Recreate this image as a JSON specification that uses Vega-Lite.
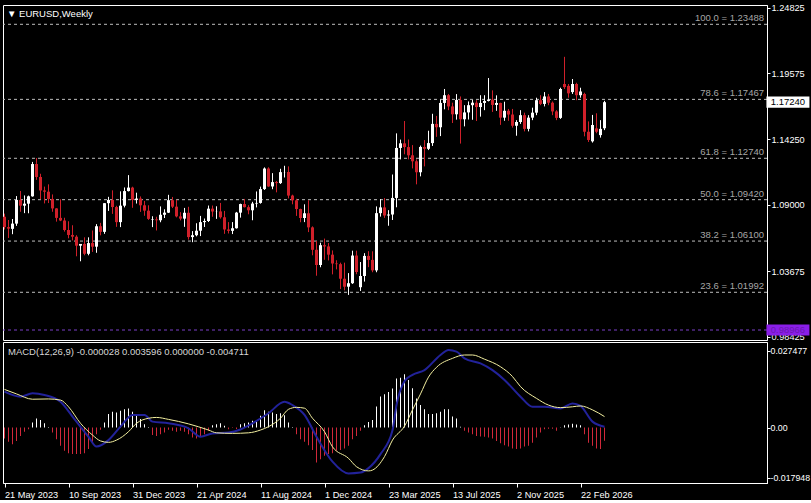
{
  "$schema": "https://vega.github.io/schema/vega-lite/v6.json",
  "background": "#000000",
  "padding": {"left": 0, "top": 3, "right": 0, "bottom": 0},
  "bounds": "flush",
  "spacing": 2,
  "config": {
    "view": {"stroke": "#ffffff", "strokeWidth": 1},
    "axis": {"labelFont": "Liberation Sans", "labelFontSize": 9.2, "labelColor": "#ffffff", "domainColor": "#ffffff", "tickColor": "#ffffff", "grid": false, "labelOverlap": false, "labelFlush": false},
    "text": {"font": "Liberation Sans", "fontSize": 9.5}
  },
  "datasets": {
    "weeks": [
      {"d":"2023-05-21","o":1.0805,"h":1.0830,"l":1.0703,"c":1.0722,"m":-0.0039},
      {"d":"2023-05-28","o":1.0722,"h":1.0779,"l":1.0635,"c":1.0710,"m":-0.0051},
      {"d":"2023-06-04","o":1.0708,"h":1.0787,"l":1.0665,"c":1.0750,"m":-0.0060},
      {"d":"2023-06-11","o":1.0750,"h":1.0971,"l":1.0732,"c":1.0940,"m":-0.0048},
      {"d":"2023-06-18","o":1.0940,"h":1.1012,"l":1.0845,"c":1.0894,"m":-0.0030},
      {"d":"2023-06-25","o":1.0894,"h":1.0976,"l":1.0834,"c":1.0910,"m":-0.0015},
      {"d":"2023-07-02","o":1.0910,"h":1.0975,"l":1.0833,"c":1.0969,"m":-0.0006},
      {"d":"2023-07-09","o":1.0969,"h":1.1245,"l":1.0966,"c":1.1228,"m":0.0018},
      {"d":"2023-07-16","o":1.1228,"h":1.1276,"l":1.1101,"c":1.1124,"m":0.0032},
      {"d":"2023-07-23","o":1.1124,"h":1.1150,"l":1.0946,"c":1.1016,"m":0.0027},
      {"d":"2023-07-30","o":1.1016,"h":1.1047,"l":1.0912,"c":1.1006,"m":0.0015},
      {"d":"2023-08-06","o":1.1006,"h":1.1065,"l":1.0915,"c":1.0948,"m":0.0002},
      {"d":"2023-08-13","o":1.0948,"h":1.0984,"l":1.0845,"c":1.0872,"m":-0.0018},
      {"d":"2023-08-20","o":1.0872,"h":1.0874,"l":1.0766,"c":1.0796,"m":-0.0042},
      {"d":"2023-08-27","o":1.0796,"h":1.0945,"l":1.0770,"c":1.0775,"m":-0.0065},
      {"d":"2023-09-03","o":1.0775,"h":1.0797,"l":1.0686,"c":1.0699,"m":-0.0083},
      {"d":"2023-09-10","o":1.0699,"h":1.0769,"l":1.0632,"c":1.0659,"m":-0.0092},
      {"d":"2023-09-17","o":1.0659,"h":1.0737,"l":1.0615,"c":1.0645,"m":-0.0095},
      {"d":"2023-09-24","o":1.0645,"h":1.0657,"l":1.0488,"c":1.0573,"m":-0.0095},
      {"d":"2023-10-01","o":1.0573,"h":1.0586,"l":1.0448,"c":1.0587,"m":-0.0095},
      {"d":"2023-10-08","o":1.0587,"h":1.0640,"l":1.0496,"c":1.0508,"m":-0.0092},
      {"d":"2023-10-15","o":1.0508,"h":1.0640,"l":1.0496,"c":1.0594,"m":-0.0077},
      {"d":"2023-10-22","o":1.0594,"h":1.0695,"l":1.0523,"c":1.0565,"m":-0.0054},
      {"d":"2023-10-29","o":1.0565,"h":1.0746,"l":1.0516,"c":1.0729,"m":-0.0024},
      {"d":"2023-11-05","o":1.0729,"h":1.0756,"l":1.0656,"c":1.0684,"m":-0.0008},
      {"d":"2023-11-12","o":1.0684,"h":1.0914,"l":1.0668,"c":1.0914,"m":0.0018},
      {"d":"2023-11-19","o":1.0914,"h":1.0965,"l":1.0852,"c":1.0940,"m":0.0048},
      {"d":"2023-11-26","o":1.0940,"h":1.1017,"l":1.0828,"c":1.0883,"m":0.0056},
      {"d":"2023-12-03","o":1.0883,"h":1.0893,"l":1.0724,"c":1.0762,"m":0.0054},
      {"d":"2023-12-10","o":1.0762,"h":1.1009,"l":1.0722,"c":1.0894,"m":0.0060},
      {"d":"2023-12-17","o":1.0894,"h":1.1040,"l":1.0880,"c":1.1011,"m":0.0065},
      {"d":"2023-12-24","o":1.1011,"h":1.1139,"l":1.1008,"c":1.1039,"m":0.0068},
      {"d":"2023-12-31","o":1.1039,"h":1.1046,"l":1.0877,"c":1.0940,"m":0.0056},
      {"d":"2024-01-07","o":1.0940,"h":1.0998,"l":1.0911,"c":1.0951,"m":0.0042},
      {"d":"2024-01-14","o":1.0951,"h":1.0968,"l":1.0844,"c":1.0897,"m":0.0030},
      {"d":"2024-01-21","o":1.0897,"h":1.0932,"l":1.0813,"c":1.0854,"m":0.0012},
      {"d":"2024-01-28","o":1.0854,"h":1.0897,"l":1.0780,"c":1.0788,"m":0.0002},
      {"d":"2024-02-04","o":1.0780,"h":1.0809,"l":1.0722,"c":1.0784,"m":-0.0027},
      {"d":"2024-02-11","o":1.0784,"h":1.0805,"l":1.0695,"c":1.0777,"m":-0.0030},
      {"d":"2024-02-18","o":1.0777,"h":1.0888,"l":1.0761,"c":1.0821,"m":-0.0024},
      {"d":"2024-02-25","o":1.0821,"h":1.0865,"l":1.0795,"c":1.0838,"m":-0.0018},
      {"d":"2024-03-03","o":1.0838,"h":1.0981,"l":1.0835,"c":1.0938,"m":-0.0008},
      {"d":"2024-03-10","o":1.0938,"h":1.0964,"l":1.0875,"c":1.0886,"m":-0.0012},
      {"d":"2024-03-17","o":1.0886,"h":1.0942,"l":1.0800,"c":1.0808,"m":-0.0015},
      {"d":"2024-03-24","o":1.0808,"h":1.0842,"l":1.0776,"c":1.0790,"m":-0.0012},
      {"d":"2024-03-31","o":1.0790,"h":1.0876,"l":1.0724,"c":1.0837,"m":-0.0015},
      {"d":"2024-04-07","o":1.0837,"h":1.0885,"l":1.0622,"c":1.0642,"m":-0.0024},
      {"d":"2024-04-14","o":1.0642,"h":1.0690,"l":1.0601,"c":1.0657,"m":-0.0036},
      {"d":"2024-04-21","o":1.0657,"h":1.0753,"l":1.0648,"c":1.0693,"m":-0.0039},
      {"d":"2024-04-28","o":1.0693,"h":1.0812,"l":1.0650,"c":1.0762,"m":-0.0030},
      {"d":"2024-05-05","o":1.0762,"h":1.0791,"l":1.0723,"c":1.0771,"m":-0.0024},
      {"d":"2024-05-12","o":1.0771,"h":1.0895,"l":1.0763,"c":1.0870,"m":-0.0012},
      {"d":"2024-05-19","o":1.0870,"h":1.0895,"l":1.0805,"c":1.0847,"m":0.0008},
      {"d":"2024-05-26","o":1.0847,"h":1.0889,"l":1.0788,"c":1.0848,"m":0.0012},
      {"d":"2024-06-02","o":1.0848,"h":1.0916,"l":1.0790,"c":1.0801,"m":0.0015},
      {"d":"2024-06-09","o":1.0801,"h":1.0852,"l":1.0668,"c":1.0703,"m":0.0006},
      {"d":"2024-06-16","o":1.0703,"h":1.0762,"l":1.0671,"c":1.0692,"m":-0.0006},
      {"d":"2024-06-23","o":1.0692,"h":1.0762,"l":1.0666,"c":1.0713,"m":-0.0002},
      {"d":"2024-06-30","o":1.0713,"h":1.0844,"l":1.0710,"c":1.0838,"m":-0.0005},
      {"d":"2024-07-07","o":1.0838,"h":1.0910,"l":1.0798,"c":1.0907,"m":0.0012},
      {"d":"2024-07-14","o":1.0907,"h":1.0948,"l":1.0880,"c":1.0882,"m":0.0015},
      {"d":"2024-07-21","o":1.0882,"h":1.0898,"l":1.0825,"c":1.0857,"m":0.0018},
      {"d":"2024-07-28","o":1.0857,"h":1.0925,"l":1.0777,"c":1.0911,"m":0.0024},
      {"d":"2024-08-04","o":1.0911,"h":1.1008,"l":1.0880,"c":1.0916,"m":0.0027},
      {"d":"2024-08-11","o":1.0916,"h":1.1047,"l":1.0910,"c":1.1027,"m":0.0042},
      {"d":"2024-08-18","o":1.1027,"h":1.1201,"l":1.1020,"c":1.1192,"m":0.0062},
      {"d":"2024-08-25","o":1.1192,"h":1.1202,"l":1.1045,"c":1.1048,"m":0.0056},
      {"d":"2024-09-01","o":1.1048,"h":1.1155,"l":1.1026,"c":1.1083,"m":0.0054},
      {"d":"2024-09-08","o":1.1083,"h":1.1092,"l":1.1001,"c":1.1075,"m":0.0048},
      {"d":"2024-09-15","o":1.1075,"h":1.1190,"l":1.1068,"c":1.1163,"m":0.0051},
      {"d":"2024-09-22","o":1.1163,"h":1.1214,"l":1.1120,"c":1.1164,"m":0.0044},
      {"d":"2024-09-29","o":1.1164,"h":1.1209,"l":1.0952,"c":1.0975,"m":0.0018},
      {"d":"2024-10-06","o":1.0975,"h":1.0982,"l":1.0905,"c":1.0937,"m":0.0002},
      {"d":"2024-10-13","o":1.0937,"h":1.0949,"l":1.0812,"c":1.0867,"m":-0.0024},
      {"d":"2024-10-20","o":1.0867,"h":1.0870,"l":1.0761,"c":1.0795,"m":-0.0042},
      {"d":"2024-10-27","o":1.0795,"h":1.0905,"l":1.0762,"c":1.0833,"m":-0.0051},
      {"d":"2024-11-03","o":1.0833,"h":1.0937,"l":1.0682,"c":1.0720,"m":-0.0063},
      {"d":"2024-11-10","o":1.0720,"h":1.0728,"l":1.0496,"c":1.0540,"m":-0.0080},
      {"d":"2024-11-17","o":1.0540,"h":1.0610,"l":1.0332,"c":1.0418,"m":-0.0125},
      {"d":"2024-11-24","o":1.0418,"h":1.0597,"l":1.0400,"c":1.0577,"m":-0.0113},
      {"d":"2024-12-01","o":1.0577,"h":1.0630,"l":1.0460,"c":1.0567,"m":-0.0101},
      {"d":"2024-12-08","o":1.0567,"h":1.0594,"l":1.0455,"c":1.0501,"m":-0.0095},
      {"d":"2024-12-15","o":1.0501,"h":1.0535,"l":1.0343,"c":1.0430,"m":-0.0092},
      {"d":"2024-12-22","o":1.0430,"h":1.0456,"l":1.0383,"c":1.0425,"m":-0.0083},
      {"d":"2024-12-29","o":1.0425,"h":1.0437,"l":1.0225,"c":1.0308,"m":-0.0080},
      {"d":"2025-01-05","o":1.0308,"h":1.0437,"l":1.0215,"c":1.0244,"m":-0.0075},
      {"d":"2025-01-12","o":1.0244,"h":1.0353,"l":1.0178,"c":1.0272,"m":-0.0065},
      {"d":"2025-01-19","o":1.0272,"h":1.0533,"l":1.0266,"c":1.0494,"m":-0.0042},
      {"d":"2025-01-26","o":1.0494,"h":1.0533,"l":1.0344,"c":1.0362,"m":-0.0030},
      {"d":"2025-02-02","o":1.0240,"h":1.0442,"l":1.0210,"c":1.0330,"m":-0.0012},
      {"d":"2025-02-09","o":1.0330,"h":1.0513,"l":1.0285,"c":1.0491,"m":0.0008},
      {"d":"2025-02-16","o":1.0491,"h":1.0529,"l":1.0401,"c":1.0459,"m":0.0020},
      {"d":"2025-02-23","o":1.0459,"h":1.0528,"l":1.0360,"c":1.0375,"m":0.0027},
      {"d":"2025-03-02","o":1.0375,"h":1.0888,"l":1.0360,"c":1.0834,"m":0.0075},
      {"d":"2025-03-09","o":1.0834,"h":1.0947,"l":1.0806,"c":1.0880,"m":0.0111},
      {"d":"2025-03-16","o":1.0880,"h":1.0955,"l":1.0796,"c":1.0815,"m":0.0119},
      {"d":"2025-03-23","o":1.0815,"h":1.0858,"l":1.0733,"c":1.0823,"m":0.0127},
      {"d":"2025-03-30","o":1.0823,"h":1.1144,"l":1.0779,"c":1.0956,"m":0.0139},
      {"d":"2025-04-06","o":1.0956,"h":1.1474,"l":1.0881,"c":1.1357,"m":0.0175},
      {"d":"2025-04-13","o":1.1357,"h":1.1424,"l":1.1265,"c":1.1394,"m":0.0178},
      {"d":"2025-04-20","o":1.1394,"h":1.1573,"l":1.1306,"c":1.1364,"m":0.0190},
      {"d":"2025-04-27","o":1.1364,"h":1.1425,"l":1.1265,"c":1.1298,"m":0.0170},
      {"d":"2025-05-04","o":1.1298,"h":1.1380,"l":1.1193,"c":1.1250,"m":0.0140},
      {"d":"2025-05-11","o":1.1250,"h":1.1266,"l":1.1065,"c":1.1162,"m":0.0104},
      {"d":"2025-05-18","o":1.1162,"h":1.1376,"l":1.1129,"c":1.1365,"m":0.0080},
      {"d":"2025-05-25","o":1.1365,"h":1.1420,"l":1.1209,"c":1.1350,"m":0.0065},
      {"d":"2025-06-01","o":1.1350,"h":1.1495,"l":1.1340,"c":1.1396,"m":0.0048},
      {"d":"2025-06-08","o":1.1396,"h":1.1631,"l":1.1373,"c":1.1550,"m":0.0048},
      {"d":"2025-06-15","o":1.1550,"h":1.1614,"l":1.1446,"c":1.1523,"m":0.0051},
      {"d":"2025-06-22","o":1.1523,"h":1.1745,"l":1.1452,"c":1.1718,"m":0.0056},
      {"d":"2025-06-29","o":1.1718,"h":1.1830,"l":1.1667,"c":1.1780,"m":0.0065},
      {"d":"2025-07-06","o":1.1780,"h":1.1790,"l":1.1660,"c":1.1690,"m":0.0065},
      {"d":"2025-07-13","o":1.1690,"h":1.1720,"l":1.1557,"c":1.1627,"m":0.0039},
      {"d":"2025-07-20","o":1.1627,"h":1.1789,"l":1.1584,"c":1.1742,"m":0.0032},
      {"d":"2025-07-27","o":1.1742,"h":1.1770,"l":1.1392,"c":1.1587,"m":0.0003},
      {"d":"2025-08-03","o":1.1587,"h":1.1700,"l":1.1530,"c":1.1642,"m":-0.0012},
      {"d":"2025-08-10","o":1.1642,"h":1.1730,"l":1.1585,"c":1.1700,"m":-0.0018},
      {"d":"2025-08-17","o":1.1700,"h":1.1742,"l":1.1583,"c":1.1720,"m":-0.0024},
      {"d":"2025-08-24","o":1.1720,"h":1.1740,"l":1.1573,"c":1.1685,"m":-0.0030},
      {"d":"2025-08-31","o":1.1685,"h":1.1780,"l":1.1608,"c":1.1718,"m":-0.0032},
      {"d":"2025-09-07","o":1.1718,"h":1.1780,"l":1.1660,"c":1.1734,"m":-0.0033},
      {"d":"2025-09-14","o":1.1734,"h":1.1918,"l":1.1730,"c":1.1745,"m":-0.0036},
      {"d":"2025-09-21","o":1.1745,"h":1.1819,"l":1.1646,"c":1.1702,"m":-0.0039},
      {"d":"2025-09-28","o":1.1702,"h":1.1779,"l":1.1655,"c":1.1718,"m":-0.0048},
      {"d":"2025-10-05","o":1.1718,"h":1.1720,"l":1.1542,"c":1.1600,"m":-0.0056},
      {"d":"2025-10-12","o":1.1600,"h":1.1728,"l":1.1575,"c":1.1655,"m":-0.0063},
      {"d":"2025-10-19","o":1.1655,"h":1.1670,"l":1.1575,"c":1.1625,"m":-0.0068},
      {"d":"2025-10-26","o":1.1625,"h":1.1670,"l":1.1520,"c":1.1535,"m":-0.0075},
      {"d":"2025-11-02","o":1.1535,"h":1.1580,"l":1.1455,"c":1.1565,"m":-0.0077},
      {"d":"2025-11-09","o":1.1565,"h":1.1660,"l":1.1550,"c":1.1620,"m":-0.0075},
      {"d":"2025-11-16","o":1.1620,"h":1.1640,"l":1.1490,"c":1.1510,"m":-0.0068},
      {"d":"2025-11-23","o":1.1510,"h":1.1620,"l":1.1490,"c":1.1600,"m":-0.0065},
      {"d":"2025-11-30","o":1.1600,"h":1.1680,"l":1.1580,"c":1.1640,"m":-0.0054},
      {"d":"2025-12-07","o":1.1640,"h":1.1760,"l":1.1620,"c":1.1740,"m":-0.0036},
      {"d":"2025-12-14","o":1.1740,"h":1.1780,"l":1.1700,"c":1.1710,"m":-0.0018},
      {"d":"2025-12-21","o":1.1710,"h":1.1805,"l":1.1690,"c":1.1770,"m":-0.0006},
      {"d":"2025-12-28","o":1.1770,"h":1.1790,"l":1.1700,"c":1.1720,"m":-0.0004},
      {"d":"2026-01-04","o":1.1720,"h":1.1730,"l":1.1620,"c":1.1650,"m":-0.0004},
      {"d":"2026-01-11","o":1.1650,"h":1.1660,"l":1.1580,"c":1.1598,"m":-0.0012},
      {"d":"2026-01-18","o":1.1598,"h":1.1840,"l":1.1590,"c":1.1830,"m":0.0001},
      {"d":"2026-01-25","o":1.1870,"h":1.2088,"l":1.1830,"c":1.1845,"m":0.0008},
      {"d":"2026-02-01","o":1.1855,"h":1.1870,"l":1.1760,"c":1.1795,"m":0.0011},
      {"d":"2026-02-08","o":1.1805,"h":1.1910,"l":1.1790,"c":1.1870,"m":0.0013},
      {"d":"2026-02-15","o":1.1870,"h":1.1880,"l":1.1740,"c":1.1780,"m":0.0011},
      {"d":"2026-02-22","o":1.1780,"h":1.1840,"l":1.1760,"c":1.1810,"m":0.0008},
      {"d":"2026-03-01","o":1.1790,"h":1.1800,"l":1.1450,"c":1.1487,"m":-0.0024},
      {"d":"2026-03-08","o":1.1487,"h":1.1570,"l":1.1405,"c":1.1421,"m":-0.0054},
      {"d":"2026-03-15","o":1.1410,"h":1.1622,"l":1.1400,"c":1.1541,"m":-0.0065},
      {"d":"2026-03-22","o":1.1514,"h":1.1635,"l":1.1475,"c":1.1487,"m":-0.0075},
      {"d":"2026-03-29","o":1.1460,"h":1.1580,"l":1.1440,"c":1.1510,"m":-0.0077},
      {"d":"2026-04-05","o":1.1515,"h":1.1735,"l":1.1500,"c":1.1724,"m":-0.0047}
    ],
    "fib": [
      {"v":1.23488,"t":"100.0 = 1.23488"},
      {"v":1.17467,"t":"78.6 = 1.17467"},
      {"v":1.12740,"t":"61.8 = 1.12740"},
      {"v":1.09420,"t":"50.0 = 1.09420"},
      {"v":1.06100,"t":"38.2 = 1.06100"},
      {"v":1.01992,"t":"23.6 = 1.01992"}
    ],
    "macdline": [
      {"d":"2023-05-21","v":0.0128},{"d":"2023-06-18","v":0.0110},{"d":"2023-07-09","v":0.0122},{"d":"2023-07-30","v":0.0116},
      {"d":"2023-08-27","v":0.0092},{"d":"2023-09-17","v":0.0039},{"d":"2023-10-15","v":-0.0033},{"d":"2023-10-29","v":-0.0068},
      {"d":"2023-11-19","v":-0.0045},{"d":"2023-12-10","v":0.0003},{"d":"2023-12-31","v":0.0045},{"d":"2024-01-21","v":0.0045},
      {"d":"2024-02-04","v":0.0021},{"d":"2024-03-03","v":0.0015},{"d":"2024-04-07","v":-0.0003},{"d":"2024-04-28","v":-0.0033},
      {"d":"2024-05-19","v":-0.0021},{"d":"2024-06-16","v":-0.0018},{"d":"2024-07-07","v":-0.0007},{"d":"2024-07-28","v":0.0015},
      {"d":"2024-08-25","v":0.0051},{"d":"2024-09-22","v":0.0092},{"d":"2024-10-06","v":0.0080},{"d":"2024-10-27","v":0.0045},
      {"d":"2024-11-17","v":-0.0033},{"d":"2024-12-15","v":-0.0122},{"d":"2025-01-12","v":-0.0164},{"d":"2025-02-02","v":-0.0161},
      {"d":"2025-02-16","v":-0.0145},{"d":"2025-03-09","v":-0.0095},{"d":"2025-03-30","v":-0.0010},{"d":"2025-04-06","v":0.0080},
      {"d":"2025-04-20","v":0.0165},{"d":"2025-05-04","v":0.0188},{"d":"2025-05-25","v":0.0205},{"d":"2025-06-22","v":0.0259},
      {"d":"2025-07-06","v":0.0277},{"d":"2025-07-20","v":0.0271},{"d":"2025-08-03","v":0.0247},{"d":"2025-08-31","v":0.0229},
      {"d":"2025-09-21","v":0.0205},{"d":"2025-10-12","v":0.0170},{"d":"2025-11-09","v":0.0110},{"d":"2025-11-30","v":0.0074},
      {"d":"2025-12-21","v":0.0074},{"d":"2026-01-18","v":0.0068},{"d":"2026-02-08","v":0.0086},{"d":"2026-02-22","v":0.0077},
      {"d":"2026-03-15","v":0.0021},{"d":"2026-04-05","v":0.0003}
    ],
    "signal": [
      {"d":"2023-05-21","v":0.0136},{"d":"2023-06-11","v":0.0120},{"d":"2023-07-09","v":0.0101},{"d":"2023-08-06","v":0.0102},
      {"d":"2023-08-27","v":0.0098},{"d":"2023-09-10","v":0.0074},{"d":"2023-10-01","v":0.0015},{"d":"2023-10-22","v":-0.0027},
      {"d":"2023-11-05","v":-0.0048},{"d":"2023-11-19","v":-0.0053},{"d":"2023-12-03","v":-0.0045},{"d":"2023-12-24","v":-0.0015},
      {"d":"2024-01-07","v":0.0015},{"d":"2024-01-28","v":0.0033},{"d":"2024-02-11","v":0.0036},{"d":"2024-03-03","v":0.0029},
      {"d":"2024-04-07","v":0.0013},{"d":"2024-05-12","v":-0.0009},{"d":"2024-05-26","v":-0.0019},{"d":"2024-06-23","v":-0.0021},
      {"d":"2024-07-21","v":-0.0019},{"d":"2024-08-11","v":-0.0009},{"d":"2024-08-25","v":0.0003},{"d":"2024-09-15","v":0.0033},
      {"d":"2024-09-29","v":0.0065},{"d":"2024-10-13","v":0.0072},{"d":"2024-10-27","v":0.0069},{"d":"2024-11-10","v":0.0033},
      {"d":"2024-12-01","v":-0.0015},{"d":"2024-12-15","v":-0.0069},{"d":"2025-01-12","v":-0.0110},{"d":"2025-01-26","v":-0.0140},
      {"d":"2025-02-16","v":-0.0155},{"d":"2025-02-23","v":-0.0152},{"d":"2025-03-16","v":-0.0104},{"d":"2025-03-30","v":-0.0045},
      {"d":"2025-04-20","v":0.0005},{"d":"2025-05-04","v":0.0063},{"d":"2025-05-18","v":0.0120},{"d":"2025-06-01","v":0.0180},
      {"d":"2025-06-15","v":0.0215},{"d":"2025-07-13","v":0.0247},{"d":"2025-08-03","v":0.0259},{"d":"2025-08-17","v":0.0259},
      {"d":"2025-09-07","v":0.0244},{"d":"2025-10-05","v":0.0217},{"d":"2025-10-26","v":0.0182},{"d":"2025-11-09","v":0.0146},
      {"d":"2025-12-07","v":0.0104},{"d":"2025-12-28","v":0.0080},{"d":"2026-01-18","v":0.0071},{"d":"2026-02-08","v":0.0074},
      {"d":"2026-02-22","v":0.0077},{"d":"2026-03-15","v":0.0063},{"d":"2026-04-05","v":0.0039}
    ],
    "labels": [{"t":"▼ EURUSD,Weekly","m":"MACD(12,26,9) -0.000028 0.003596 0.000000 -0.004711","p":"1.17240","q":"0.98966"}]
  },
  "vconcat": [
    {
      "width": 764,
      "height": 335,
      "layer": [
        {
          "data": {"name": "fib"},
          "mark": {"type": "rule", "strokeDash": [3, 3], "color": "#bdbdbd", "strokeWidth": 1},
          "encoding": {
            "y": {"field": "v", "type": "quantitative",
              "scale": {"domain": [0.98165, 1.25036], "nice": false, "zero": false},
              "axis": {"orient": "right", "title": null, "values": [0.98425, 1.0105, 1.03675, 1.063, 1.09, 1.11625, 1.1425, 1.16875, 1.19575, 1.222, 1.24825], "format": ".5f", "tickSize": 3, "labelPadding": 1}}
          }
        },
        {
          "data": {"name": "fib"},
          "mark": {"type": "text", "align": "right", "baseline": "bottom", "dx": -3, "dy": -1, "color": "#a6a6a6"},
          "encoding": {
            "x": {"datum": {"year": 2027, "month": "Jan", "date": 14, "hours": 9, "utc": true}, "type": "temporal",
              "scale": {"type": "utc", "padding": 0, "domain": [{"year": 2023, "month": "May", "date": 18, "hours": 9, "utc": true}, {"year": 2027, "month": "Jan", "date": 14, "hours": 9, "utc": true}]},
              "axis": null},
            "y": {"field": "v", "type": "quantitative"},
            "text": {"field": "t"}
          }
        },
        {
          "data": {"name": "labels"},
          "mark": {"type": "rule", "strokeDash": [3, 3], "color": "#7a3fc8", "strokeWidth": 1},
          "encoding": {"y": {"datum": 0.98966}}
        },
        {
          "data": {"name": "weeks"},
          "mark": {"type": "rule", "strokeWidth": 1},
          "encoding": {
            "x": {"field": "d", "type": "temporal"},
            "y": {"field": "l", "type": "quantitative"},
            "y2": {"field": "h"},
            "color": {"condition": {"test": "datum.c >= datum.o", "value": "#ffffff"}, "value": "#d0202a"}
          }
        },
        {
          "data": {"name": "weeks"},
          "mark": {"type": "bar", "width": 3},
          "encoding": {
            "x": {"field": "d", "type": "temporal"},
            "y": {"field": "o", "type": "quantitative"},
            "y2": {"field": "c"},
            "color": {"condition": {"test": "datum.c >= datum.o", "value": "#ffffff"}, "value": "#d0202a"}
          }
        },
        {
          "data": {"name": "labels"},
          "mark": {"type": "text", "align": "left", "baseline": "middle", "dx": 4, "color": "#ffffff"},
          "encoding": {
            "x": {"datum": {"year": 2023, "month": "May", "date": 18, "hours": 9, "utc": true}, "type": "temporal"},
            "y": {"datum": 1.2434},
            "text": {"field": "t"}
          }
        },
        {
          "data": {"name": "labels"},
          "mark": {"type": "point", "shape": "M-1,-0.26H1V0.26H-1Z", "filled": true, "opacity": 1, "color": "#ffffff", "size": 1849},
          "encoding": {
            "x": {"datum": {"year": 2027, "month": "Feb", "date": 20, "utc": true}, "type": "temporal"},
            "y": {"datum": 1.1724}
          }
        },
        {
          "data": {"name": "labels"},
          "mark": {"type": "text", "align": "center", "baseline": "middle", "color": "#000000"},
          "encoding": {
            "x": {"datum": {"year": 2027, "month": "Feb", "date": 20, "utc": true}, "type": "temporal"},
            "y": {"datum": 1.1724},
            "text": {"field": "p"}
          }
        },
        {
          "data": {"name": "labels"},
          "mark": {"type": "point", "shape": "M-1,-0.26H1V0.26H-1Z", "filled": true, "opacity": 1, "color": "#8a1ee8", "size": 1849},
          "encoding": {
            "x": {"datum": {"year": 2027, "month": "Feb", "date": 20, "utc": true}, "type": "temporal"},
            "y": {"datum": 0.98966}
          }
        },
        {
          "data": {"name": "labels"},
          "mark": {"type": "text", "align": "center", "baseline": "middle", "color": "#6a18b0"},
          "encoding": {
            "x": {"datum": {"year": 2027, "month": "Feb", "date": 20, "utc": true}, "type": "temporal"},
            "y": {"datum": 0.98966},
            "text": {"field": "q"}
          }
        }
      ]
    },
    {
      "width": 764,
      "height": 141,
      "layer": [
        {
          "data": {"name": "weeks"},
          "mark": {"type": "bar", "width": 1},
          "encoding": {
            "x": {"field": "d", "type": "temporal",
              "scale": {"type": "utc", "padding": 0, "domain": [{"year": 2023, "month": "May", "date": 18, "hours": 9, "utc": true}, {"year": 2027, "month": "Jan", "date": 14, "hours": 9, "utc": true}]},
              "axis": {"orient": "bottom", "title": null, "labelExpr": "utcFormat(datum.value, '%-d %b %Y')", "labelAlign": "left", "labelPadding": 3, "tickSize": 4,
                "values": [
                  {"year": 2023, "month": "May", "date": 21, "utc": true},
                  {"year": 2023, "month": "Sep", "date": 10, "utc": true},
                  {"year": 2023, "month": "Dec", "date": 31, "utc": true},
                  {"year": 2024, "month": "Apr", "date": 21, "utc": true},
                  {"year": 2024, "month": "Aug", "date": 11, "utc": true},
                  {"year": 2024, "month": "Dec", "date": 1, "utc": true},
                  {"year": 2025, "month": "Mar", "date": 23, "utc": true},
                  {"year": 2025, "month": "Jul", "date": 13, "utc": true},
                  {"year": 2025, "month": "Nov", "date": 2, "utc": true},
                  {"year": 2026, "month": "Feb", "date": 22, "utc": true}
                ]}},
            "y": {"field": "m", "type": "quantitative",
              "scale": {"domain": [-0.01982, 0.03054], "nice": false, "zero": false},
              "axis": {"orient": "right", "title": null, "values": [0.027477, 0, -0.017948], "labelExpr": "datum.value == 0 ? '0.00' : replace(format(datum.value, '.6f'), '\u2212', '-')", "tickSize": 3, "labelPadding": 0, "labelFontSize": 8.8}},
            "y2": {"datum": 0},
            "color": {"condition": {"test": "datum.m >= 0", "value": "#ffffff"}, "value": "#d0283a"}
          }
        },
        {
          "data": {"name": "macdline"},
          "mark": {"type": "line", "color": "#22229a", "strokeWidth": 2, "interpolate": "monotone"},
          "encoding": {
            "x": {"field": "d", "type": "temporal"},
            "y": {"field": "v", "type": "quantitative"}
          }
        },
        {
          "data": {"name": "signal"},
          "mark": {"type": "line", "color": "#f4f0a0", "strokeWidth": 1, "interpolate": "monotone"},
          "encoding": {
            "x": {"field": "d", "type": "temporal"},
            "y": {"field": "v", "type": "quantitative"}
          }
        },
        {
          "data": {"name": "labels"},
          "mark": {"type": "text", "align": "left", "baseline": "middle", "dx": 5, "color": "#d8d8d8"},
          "encoding": {
            "x": {"datum": {"year": 2023, "month": "May", "date": 18, "hours": 9, "utc": true}, "type": "temporal"},
            "y": {"datum": 0.0271},
            "text": {"field": "m"}
          }
        }
      ]
    }
  ]
}
